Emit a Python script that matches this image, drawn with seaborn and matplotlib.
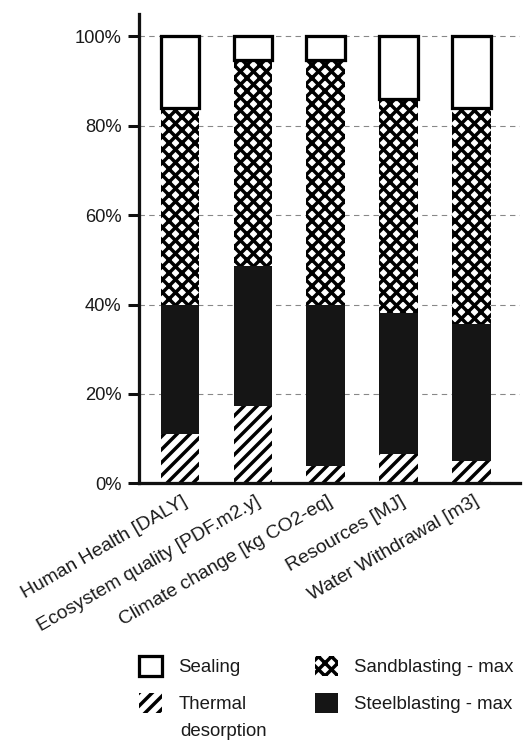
import numpy as np
import pandas as pd
import matplotlib
matplotlib.use('Agg')
import matplotlib.pyplot as plt
import matplotlib.transforms as mtransforms
import seaborn as sns

# ── Data (share of each impact category, %) ──────────────
categories = ['Human Health [DALY]', 'Ecosystem quality [PDF.m2.y]',
              'Climate change [kg CO2-eq]', 'Resources [MJ]',
              'Water Withdrawal [m3]']
thermal    = [11.0, 17.3, 3.9, 6.6, 4.9]
steel      = [29.0, 31.4, 36.1, 31.5, 30.8]
sand       = [44.0, 45.9, 54.8, 47.8, 48.3]
sealing    = [16.0, 5.4, 5.2, 14.1, 16.0]
yticks     = [0, 20, 40, 60, 80, 100]
ytick_labels = ['0%', '20%', '40%', '60%', '80%', '100%']

df = pd.DataFrame({'category': categories, 'thermal': thermal,
                   'steel': steel, 'sand': sand, 'sealing': sealing})
df['b_steel'] = df['thermal']
df['b_sand'] = df['thermal'] + df['steel']
df['b_seal'] = df['b_sand'] + df['sand']

sns.set_style('white')
plt.rcParams['font.family'] = ['Liberation Sans', 'DejaVu Sans']
plt.rcParams['text.color'] = '#1a1a1a'
plt.rcParams['hatch.linewidth'] = 3.2

DPI = 78
fig = plt.figure(figsize=(523 / DPI, 742 / DPI), dpi=DPI)
ax = fig.add_axes([139 / 523, (742 - 483.3) / 742, 381 / 523, 469.3 / 742])

W = 0.53
common = dict(data=df, x='category', errorbar=None, width=W, saturation=1,
              ax=ax, linewidth=0)
sns.barplot(y='thermal', color='white', edgecolor='black', hatch='//',
            label='Thermal', **common)
sns.barplot(y='steel', bottom=df['b_steel'], color='#151515',
            edgecolor='#151515', label='Steelblasting - max', **common)
sns.barplot(y='sand', bottom=df['b_sand'], color='white', edgecolor='black',
            hatch='xx', label='Sandblasting - max', **common)
common['linewidth'] = 3
sns.barplot(y='sealing', bottom=df['b_seal'], color='white', edgecolor='black',
            label='Sealing', **common)

# ── Axes styling ─────────────────────────────────────────
ax.set_ylim(0, 105)
ax.set_xlim(-0.563, 4.67)
ax.set_yticks(yticks)
ax.set_yticklabels(ytick_labels)
ax.set_xlabel('')
ax.set_ylabel('')
ax.yaxis.grid(True, linestyle=(0, (5, 4)), color='#888888', linewidth=1)
ax.set_axisbelow(True)
for s in ['top', 'right']:
    ax.spines[s].set_visible(False)
for s in ['left', 'bottom']:
    ax.spines[s].set_linewidth(3)
    ax.spines[s].set_color('#111111')

ax.tick_params(axis='y', length=10, width=2.8, pad=6, labelsize=17,
               colors='#111111', labelcolor='#1a1a1a', left=True)
ax.tick_params(axis='x', length=0, pad=15.5, labelsize=17.8, labelcolor='#1a1a1a')
offset = mtransforms.ScaledTranslation(6 / DPI, 0, fig.dpi_scale_trans)
for lab in ax.get_xticklabels():
    lab.set_rotation(30)
    lab.set_ha('right')
    lab.set_va('center')
    lab.set_rotation_mode('anchor')
    lab.set_transform(lab.get_transform() + offset)

# ── Legend ───────────────────────────────────────────────
handles, labels = ax.get_legend_handles_labels()
order = ['Sealing', 'Thermal', 'Sandblasting - max', 'Steelblasting - max']
hmap = dict(zip(labels, handles))
if ax.legend_:
    ax.legend_.remove()
fig.legend([hmap[l] for l in order], order, ncol=2, frameon=False,
           loc='upper left', bbox_to_anchor=(139 / 523, 1 - 656 / 742),
           borderpad=0, borderaxespad=0, fontsize=17.2,
           handlelength=1.25, handleheight=1.25, handletextpad=0.85,
           columnspacing=3.7, labelspacing=0.9)
fig.text(180 / 523, 1 - 731 / 742, 'desorption', fontsize=17.2,
         va='center', ha='left')

plt.savefig('out.png', dpi=DPI)
